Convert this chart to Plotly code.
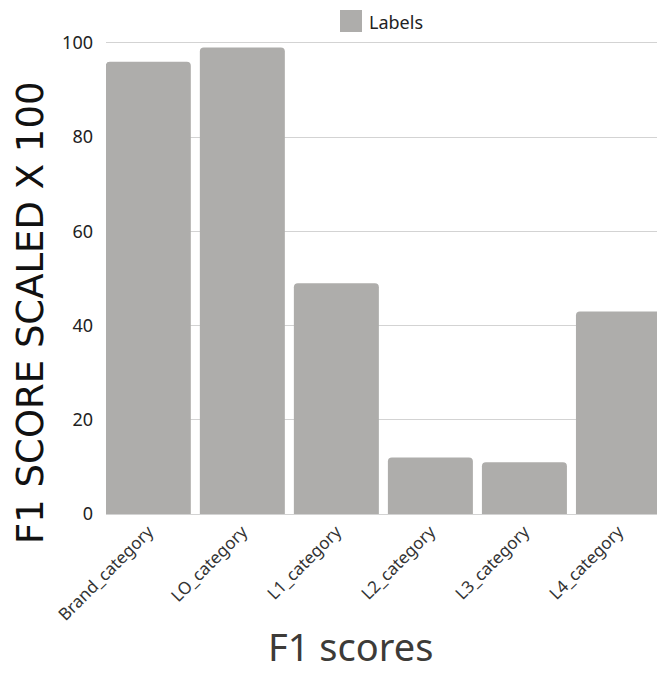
import plotly.graph_objects as go

# F1 scores per label category (scaled x 100)
categories = ["Brand_category", "LO_category", "L1_category",
              "L2_category", "L3_category", "L4_category"]
f1_scores = [96, 99, 49, 12, 11, 43]
series_name = "Labels"
y_ticks = [0, 20, 40, 60, 80, 100]

BAR_COLOR = "#aeadab"
GRID_COLOR = "#d3d3d3"
FONT = "Noto Sans"

# plot-area geometry in pixels (used to place the free-standing texts)
W, H = 657, 679
ML, MR, MT, MB = 106, 0, 41, 165
PW, PH = W - ML - MR, H - MT - MB


def px_x(x):
    return (x - ML) / PW


def px_y(y):
    return (H - MB - y) / PH


fig = go.Figure()
fig.add_trace(go.Bar(
    x=categories,
    y=f1_scores,
    name=series_name,
    marker=dict(color=BAR_COLOR, line=dict(width=0)),
    showlegend=False,
))

# legend entry: swatch + label above the plot
fig.add_shape(type="rect", xref="paper", yref="paper",
              x0=px_x(340), x1=px_x(362), y0=px_y(32), y1=px_y(10),
              fillcolor=BAR_COLOR, line=dict(width=0))
fig.add_annotation(text=series_name, xref="paper", yref="paper",
                   x=px_x(367), y=px_y(22), xanchor="left", yanchor="middle",
                   showarrow=False,
                   font=dict(family=FONT, size=18, color="#222222"))

# axis titles
fig.add_annotation(text="F1 SCORE SCALED X 100", xref="paper", yref="paper",
                   x=px_x(30), y=px_y(313), textangle=-90,
                   xanchor="center", yanchor="middle", showarrow=False,
                   font=dict(family="DejaVu Sans", size=37, color="#111111"))
fig.add_annotation(text="F1 scores", xref="paper", yref="paper",
                   x=px_x(350), y=px_y(646),
                   xanchor="center", yanchor="middle", showarrow=False,
                   font=dict(family=FONT, size=38, color="#3d3b38"))

fig.update_layout(
    width=W, height=H,
    margin=dict(l=ML, r=MR, t=MT, b=MB, autoexpand=False),
    paper_bgcolor="white", plot_bgcolor="white",
    bargap=0.096,
    barcornerradius=4,
    font=dict(family=FONT, color="#222222"),
    xaxis=dict(
        range=[-0.45, 5.41],
        tickangle=-45,
        tickfont=dict(family=FONT, size=17, color="#333333"),
        showgrid=False,
        showline=True, linecolor=GRID_COLOR, linewidth=1,
        ticks="",
        automargin=False,
    ),
    yaxis=dict(
        range=[0, 100.4],
        tickvals=y_ticks,
        tickfont=dict(family=FONT, size=18, color="#222222"),
        showgrid=True, gridcolor=GRID_COLOR, gridwidth=1,
        zeroline=False,
        ticks="",
        ticklabelstandoff=12,
        automargin=False,
    ),
)

fig.write_html("out.html")
